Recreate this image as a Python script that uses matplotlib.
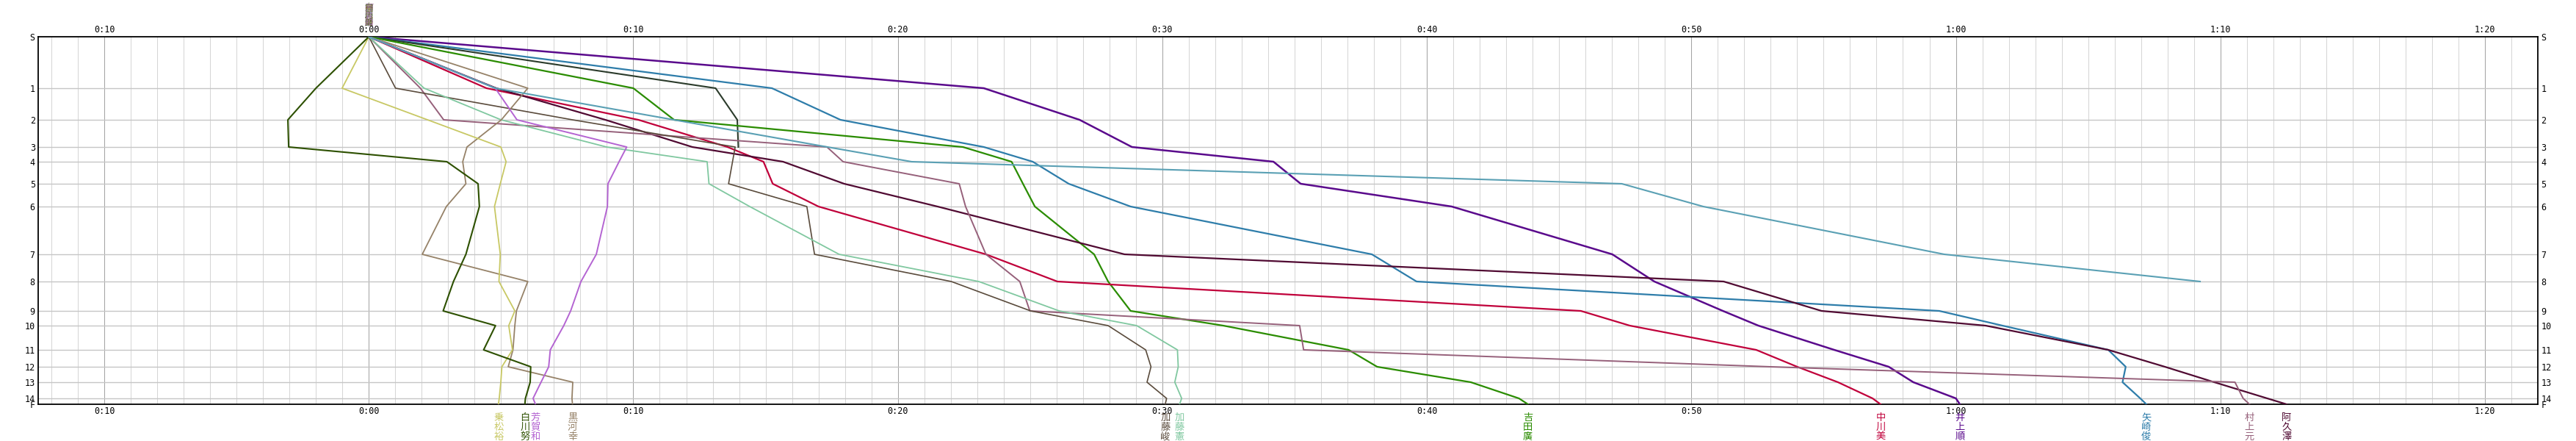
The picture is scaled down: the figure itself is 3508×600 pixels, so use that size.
import numpy as np
import matplotlib
matplotlib.use("Agg")
import matplotlib.pyplot as plt
import matplotlib.transforms as mtransforms

# ============================================================
# Data  (times in minutes from the start)
# ============================================================

station_labels = ["S", "1", "2", "3", "4", "5", "6", "7", "8", "9",
                  "10", "11", "12", "13", "14", "F"]
station_pos = [0, 70, 113, 150, 170, 200, 231, 296, 333, 373,
               393, 426, 449, 470, 492, 500]

names = ["井上順", "矢崎俊", "", "吉田廣", "中川美", "阿久澤", "村上元",
         "加藤峻", "加藤憲", "黒河幸", "乗松裕", "白川努", "芳賀和", ""]
colors = ["#5A0A8C", "#2E7DAA", "#2B3B2B", "#2A8C00", "#C0003A", "#500A32",
          "#96607A", "#5A4B3C", "#80C8A0", "#968268", "#C8C864", "#2D5000",
          "#B464D2", "#5AA0B4"]

inoue     = [0, 23.25, 26.87, 28.85, 34.2, 35.23, 40.94, 47.01, 48.6, 51.19,
             52.53, 55.4, 57.46, 58.39, 60.0, 60.15]
yazaki    = [0, 15.24, 17.83, 23.25, 25.1, 26.46, 28.8, 37.92, 39.61, 59.37,
             61.76, 65.76, 66.42, 66.3, 66.97, 67.2]
dnf_dark  = [0, 13.11, 13.93, 13.97]
yoshida   = [0, 10.0, 11.54, 22.46, 24.3, 24.73, 25.18, 27.42, 27.95, 28.8,
             32.3, 37.04, 38.12, 41.66, 43.48, 43.82]
nakagawa  = [0, 4.45, 10.19, 13.56, 14.92, 15.27, 17.0, 23.33, 26.03, 45.82,
             47.67, 52.45, 54.0, 55.54, 56.85, 57.15]
akuzawa   = [0, 4.82, 8.94, 12.23, 15.66, 17.97, 21.5, 28.57, 51.22, 54.92,
             61.12, 65.76, 67.9, 69.77, 71.77, 72.5]
murakami  = [0, 1.95, 2.83, 17.32, 17.93, 22.32, 22.56, 23.33, 24.61, 24.99,
             35.19, 35.34, 53.0, 70.55, 70.86, 71.1]
kato_shun = [0, 1.01, 7.7, 13.85, 13.75, 13.6, 16.56, 16.85, 22.02, 25.02,
             27.95, 29.37, 29.57, 29.42, 30.16, 30.11]
kato_ken  = [0, 2.09, 5.0, 8.99, 12.79, 12.86, 14.4, 17.78, 23.06, 26.1,
             29.03, 30.57, 30.6, 30.47, 30.73, 30.65]
kurokawa  = [0, 6.01, 5.01, 3.71, 3.55, 3.67, 2.93, 2.02, 6.01, 5.58,
             5.52, 5.45, 5.27, 7.71, 7.68, 7.7]
norimatsu = [0, -1.01, 2.22, 4.99, 5.19, 4.97, 4.75, 4.97, 4.92, 5.52,
             5.29, 5.43, 5.03, 4.99, 4.93, 4.9]
shirakawa = [0, -2.0, -3.06, -3.03, 2.95, 4.13, 4.18, 3.67, 3.2, 2.81,
             4.79, 4.34, 6.12, 6.1, 5.92, 5.9]
haga      = [0, 4.78, 5.6, 9.75, 9.46, 9.04, 9.02, 8.6, 8.02, 7.63,
             7.37, 6.86, 6.8, 6.51, 6.21, 6.3]
dnf_teal  = [0, 4.78, 11.53, 17.34, 20.52, 47.37, 50.45, 59.56, 69.23]

runs = [inoue, yazaki, dnf_dark, yoshida, nakagawa, akuzawa, murakami,
        kato_shun, kato_ken, kurokawa, norimatsu, shirakawa, haga, dnf_teal]
widths = [1.8, 1.6, 1.5, 1.6, 1.6, 1.6, 1.4, 1.2, 1.3, 1.3, 1.3, 1.5, 1.4, 1.5]

X_MIN, X_MAX = -12.5, 82.0
time_ticks = list(range(-10, 81, 10))

# ============================================================
# Figure
# ============================================================

W, H = 3508, 600
fig = plt.figure(figsize=(W / 100, H / 100), dpi=100)
fig.patch.set_facecolor("white")
ax = fig.add_axes([52 / W, 50 / H, (3456 - 52) / W, 500 / H])

ax.set_xlim(X_MIN, X_MAX)
ax.set_ylim(station_pos[-1], station_pos[0])

# grid: every minute, darker every 10 minutes
for m in range(int(np.ceil(X_MIN)), int(X_MAX) + 1):
    if m % 10 == 0:
        ax.axvline(m, color="#A4A4A4", lw=0.75, zorder=1)
    else:
        ax.axvline(m, color="#D6D6D6", lw=0.75, zorder=1)
for p in station_pos[1:-1]:
    ax.axhline(p, color="#C6C6C6", lw=1.0, zorder=1)

# runs
for t, c, lw in zip(runs, colors, widths):
    ax.plot(t, station_pos[:len(t)], color=c, lw=lw, zorder=3)

# axes frame
for s in ax.spines.values():
    s.set_color("black")
    s.set_linewidth(1.3)

# time labels top and bottom
def fmt(m):
    m = abs(m)
    return f"{m // 60}:{m % 60:02d}"

ax.set_xticks(time_ticks)
ax.set_xticklabels([fmt(m) for m in time_ticks])
ax.set_yticks(station_pos)
ax.set_yticklabels(station_labels)
ax.tick_params(axis="x", top=True, labeltop=True, bottom=True, labelbottom=True,
               length=0, pad=2, labelsize=8.5)
ax.tick_params(axis="y", left=True, labelleft=True, right=True, labelright=True,
               length=0, pad=3, labelsize=8.5)
for lab in ax.get_xticklabels() + ax.get_yticklabels():
    lab.set_family("DejaVu Sans Mono")

# runner names: finish position below the chart
trans = mtransforms.blended_transform_factory(ax.transData, ax.transAxes)
for t, c, n in zip(runs, colors, names):
    if not n or len(t) < len(station_pos):
        continue
    ax.text(t[-1], -0.024, "\n".join(n), transform=trans, color=c,
            ha="center", va="top", fontsize=9.5, linespacing=0.98,
            family=["Noto Sans CJK JP", "DejaVu Sans"])

# all names stacked at the start
for c, n in zip(colors, names):
    if not n:
        continue
    ax.text(0, 1.028, "\n".join(n), transform=trans, color=c,
            ha="center", va="bottom", fontsize=8, linespacing=0.98,
            family=["Noto Sans CJK JP", "DejaVu Sans"], alpha=0.55)

fig.savefig("out.png", dpi=100, facecolor="white")
